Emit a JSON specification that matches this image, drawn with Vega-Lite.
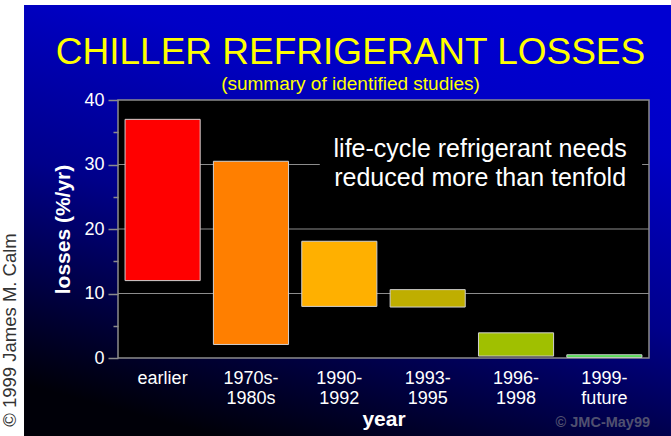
{
  "$schema": "https://vega.github.io/schema/vega-lite/v6.json",
  "width": 531,
  "height": 258,
  "autosize": {"type": "none"},
  "padding": {"left": 118, "top": 100, "right": 22, "bottom": 78},
  "background": "white",
  "config": {
    "view": {"stroke": null},
    "font": "Liberation Sans"
  },
  "title": {
    "text": "CHILLER REFRIGERANT LOSSES",
    "subtitle": "(summary of identified studies)",
    "color": "#ffff00",
    "subtitleColor": "#ffff00",
    "font": "Liberation Sans",
    "subtitleFont": "Liberation Sans",
    "fontSize": 37,
    "subtitleFontSize": 19,
    "fontWeight": "normal",
    "anchor": "middle",
    "dx": -33,
    "offset": -90,
    "subtitlePadding": 3,
    "zindex": 1
  },
  "data": {
    "values": [
      {"period": "earlier", "low": 12, "high": 37},
      {"period": "1970s-1980s", "low": 2.1, "high": 30.5},
      {"period": "1990-1992", "low": 8, "high": 18.1},
      {"period": "1993-1995", "low": 7.9, "high": 10.6},
      {"period": "1996-1998", "low": 0.3, "high": 3.9},
      {"period": "1999-future", "low": 0.1, "high": 0.5}
    ]
  },
  "resolve": {"scale": {"x": "independent", "y": "independent"}},
  "layer": [
    {
      "data": {"values": [{"k": 1}]},
      "mark": {
        "type": "rect",
        "fill": {
          "gradient": "linear",
          "x1": 0.7, "y1": 0, "x2": 0.3, "y2": 1,
          "stops": [
            {"offset": 0, "color": "#0000d2"},
            {"offset": 0.2, "color": "#0000c6"},
            {"offset": 0.55, "color": "#00008a"},
            {"offset": 0.85, "color": "#000032"},
            {"offset": 1, "color": "#000008"}
          ]
        }
      },
      "encoding": {
        "x": {"datum": -0.177, "type": "quantitative", "scale": {"domain": [0, 1]}, "axis": null},
        "x2": {"datum": 1.0414},
        "y": {"datum": -12.093, "type": "quantitative", "scale": {"domain": [0, 40], "nice": false}, "axis": null},
        "y2": {"datum": 54.73}
      }
    },
    {
      "data": {"values": [{"k": 1}]},
      "mark": {"type": "rect", "fill": "black", "stroke": "#8c8c8c", "strokeWidth": 1.5},
      "encoding": {
        "x": {"datum": 0, "type": "quantitative", "scale": {"domain": [0, 1]}, "axis": null},
        "x2": {"datum": 1},
        "y": {"datum": 0, "type": "quantitative", "scale": {"domain": [0, 40], "nice": false}, "axis": null},
        "y2": {"datum": 40}
      }
    },
    {
      "data": {"values": [{"g": 10}, {"g": 20}, {"g": 30}]},
      "mark": {"type": "rule", "color": "#8c8c8c", "strokeWidth": 1.2},
      "encoding": {
        "x": {"datum": 0, "type": "quantitative", "scale": {"domain": [0, 1]}, "axis": null},
        "x2": {"datum": 1},
        "y": {"field": "g", "type": "quantitative", "scale": {"domain": [0, 40], "nice": false}, "axis": null}
      }
    },
    {
      "data": {"values": [{"k": 1}]},
      "mark": {"type": "rect", "fill": "black"},
      "encoding": {
        "x": {"datum": 0.38, "type": "quantitative", "scale": {"domain": [0, 1]}, "axis": null},
        "x2": {"datum": 0.987},
        "y": {"datum": 25, "type": "quantitative", "scale": {"domain": [0, 40], "nice": false}, "axis": null},
        "y2": {"datum": 34}
      }
    },
    {
      "mark": {"type": "bar", "stroke": "#d0d0d0", "strokeWidth": 1},
      "encoding": {
        "x": {
          "field": "period",
          "type": "nominal",
          "sort": null,
          "scale": {"paddingInner": 0.15, "paddingOuter": 0.08},
          "axis": {
            "domain": false,
            "ticks": false,
            "labelAngle": 0,
            "labelColor": "white",
            "labelFont": "Liberation Sans",
            "labelFontSize": 18,
            "labelLineHeight": 20,
            "labelPadding": 11,
            "labelExpr": "indexof(datum.label, '-') > 0 ? [slice(datum.label, 0, indexof(datum.label, '-') + 1), slice(datum.label, indexof(datum.label, '-') + 1)] : datum.label",
            "title": "year",
            "titleColor": "white",
            "titleFont": "Liberation Sans",
            "titleFontSize": 21,
            "titleFontWeight": "bold",
            "titlePadding": 1,
            "zindex": 1
          }
        },
        "y": {
          "field": "low",
          "type": "quantitative",
          "scale": {"domain": [0, 40], "nice": false},
          "axis": {
            "values": [0, 5, 10, 15, 20, 25, 30, 35, 40],
            "domain": false,
            "grid": false,
            "tickColor": "#8c8c8c",
            "tickWidth": 1.5,
            "tickSize": {"condition": {"test": "datum.value % 10 === 0", "value": 10}, "value": 5},
            "labelExpr": "datum.value % 10 === 0 ? datum.label : ''",
            "labelColor": "white",
            "labelFont": "Liberation Sans",
            "labelFontSize": 18,
            "labelPadding": 4,
            "title": "losses (%/yr)",
            "titleColor": "white",
            "titleFont": "Liberation Sans",
            "titleFontSize": 21,
            "titleFontWeight": "bold",
            "titlePadding": 10,
            "zindex": 1
          }
        },
        "y2": {"field": "high"},
        "color": {
          "field": "period",
          "type": "nominal",
          "sort": null,
          "scale": {
            "domain": ["earlier", "1970s-1980s", "1990-1992", "1993-1995", "1996-1998", "1999-future"],
            "range": ["#ff0000", "#ff7f00", "#ffb000", "#bfae00", "#a0c000", "#44dd44"]
          },
          "legend": null
        }
      }
    },
    {
      "data": {"values": [{"k": 1}]},
      "mark": {"type": "text", "fontSize": 25, "lineHeight": 29, "color": "white", "align": "center", "baseline": "alphabetic", "font": "Liberation Sans"},
      "encoding": {
        "x": {"datum": 0.682, "type": "quantitative", "scale": {"domain": [0, 1]}, "axis": null},
        "y": {"datum": 31.2, "type": "quantitative", "scale": {"domain": [0, 40], "nice": false}, "axis": null},
        "text": {"value": ["life-cycle refrigerant needs", "reduced more than tenfold"]}
      }
    },
    {
      "data": {"values": [{"k": 1}]},
      "mark": {"type": "text", "fontSize": 14.5, "fontWeight": "bold", "color": "#505070", "align": "right", "baseline": "alphabetic", "font": "Liberation Sans"},
      "encoding": {
        "x": {"datum": 1.002, "type": "quantitative", "scale": {"domain": [0, 1]}, "axis": null},
        "y": {"datum": -10.65, "type": "quantitative", "scale": {"domain": [0, 40], "nice": false}, "axis": null},
        "text": {"value": "© JMC-May99"}
      }
    },
    {
      "data": {"values": [{"k": 1}]},
      "mark": {"type": "text", "fontSize": 18.5, "color": "#333333", "align": "center", "baseline": "middle", "angle": 270, "font": "Liberation Sans"},
      "encoding": {
        "x": {"datum": -0.2034, "type": "quantitative", "scale": {"domain": [0, 1]}, "axis": null},
        "y": {"datum": 4.34, "type": "quantitative", "scale": {"domain": [0, 40], "nice": false}, "axis": null},
        "text": {"value": "© 1999 James M. Calm"}
      }
    }
  ]
}
